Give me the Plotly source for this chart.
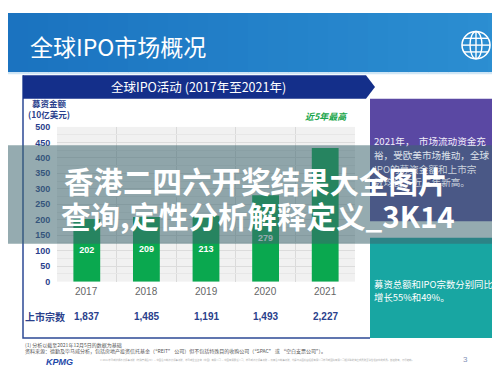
import plotly.graph_objects as go

years = ["2017", "2018", "2019", "2020", "2021"]
funds_raised = [202, 209, 213, 279, 432]          # 募资金额 (10亿美元)
bar_labels = ["202", "209", "213", "279", ""]     # 2021 label hidden behind overlay text
listings = ["1,837", "1,485", "1,191", "1,493", "2,227"]  # 上市宗数
y_ticks = [0, 50, 100, 150, 200, 250, 300, 350, 400, 450, 500]

W, H = 500, 375
def px(x): return x / W
def py(y): return 1 - y / H

NAVY = "#142f8a"
TXT_NAVY = "#2a3f8c"
GREEN = "#0aa84f"
CJK = "Noto Sans CJK SC, Noto Sans, sans-serif"
NUM = "Liberation Sans, Arial, sans-serif"

idx = list(range(len(years)))

fig = go.Figure()
fig.add_trace(go.Bar(
    x=idx, y=funds_raised, width=0.45,
    marker=dict(color=GREEN, line=dict(width=0)),
    text=bar_labels,
    textposition="inside", insidetextanchor="middle",
    textfont=dict(color="white", size=9, family=NUM, weight="bold"),
    hoverinfo="skip",
))

shapes = []
# header gradient
c0 = (27, 115, 192); c1 = (44, 143, 210)
n = 25
for i in range(n):
    t = i / (n - 1)
    c = tuple(int(c0[k] + (c1[k] - c0[k]) * t) for k in range(3))
    shapes.append(dict(type="rect", xref="paper", yref="paper",
                       x0=px(W * i / n), x1=px(W * (i + 1) / n + 1), y0=py(61), y1=py(0),
                       fillcolor="rgb(%d,%d,%d)" % c, line=dict(width=0), layer="below"))
shapes.append(dict(type="rect", xref="paper", yref="paper", x0=0, x1=1, y0=py(63), y1=py(61),
                   fillcolor="#cfe6f6", line=dict(width=0), layer="below"))
# globe icon
gx, gy, r = 468, 33, 14
shapes.append(dict(type="circle", xref="paper", yref="paper", x0=px(gx - r), x1=px(gx + r),
                   y0=py(gy + r), y1=py(gy - r), line=dict(color="white", width=1.6)))
shapes.append(dict(type="circle", xref="paper", yref="paper", x0=px(gx - 6), x1=px(gx + 6),
                   y0=py(gy + r), y1=py(gy - r), line=dict(color="white", width=1.4)))
shapes.append(dict(type="line", xref="paper", yref="paper", x0=px(gx), x1=px(gx),
                   y0=py(gy + r), y1=py(gy - r), line=dict(color="white", width=1.4)))
for dy, hw in [(0, 14), (-7, 12), (7, 12)]:
    shapes.append(dict(type="line", xref="paper", yref="paper", x0=px(gx - hw), x1=px(gx + hw),
                       y0=py(gy + dy), y1=py(gy + dy), line=dict(color="white", width=1.4)))
# chart box border
shapes.append(dict(type="path", xref="paper", yref="paper",
                   path="M %f %f L %f %f L %f %f" % (px(15), py(64), px(15), py(334), px(362), py(334)),
                   line=dict(color="#2d4a95", width=1.5), layer="below"))
# navy header arrow
shapes.append(dict(type="path", xref="paper", yref="paper",
                   path="M %f %f L %f %f L %f %f L %f %f L %f %f Z" % (
                       px(15), py(64), px(358), py(64), px(367), py(76), px(358), py(88), px(15), py(88)),
                   fillcolor=NAVY, line=dict(width=0), layer="below"))
# right panels
shapes.append(dict(type="rect", xref="paper", yref="paper", x0=px(362), x1=1, y0=py(214), y1=py(88),
                   fillcolor="#5a48a3", line=dict(width=0), layer="below"))
shapes.append(dict(type="rect", xref="paper", yref="paper", x0=px(362), x1=1, y0=py(334), y1=py(231),
                   fillcolor="#18a6a2", line=dict(width=0), layer="below"))
# translucent overlay band
shapes.append(dict(type="rect", xref="paper", yref="paper", x0=0, x1=1, y0=py(237), y1=py(136),
                   fillcolor="rgba(62,102,112,0.55)", line=dict(width=0), layer="above"))

ann = []
def A(text, x, y, size, color, xanchor="left", family=CJK, weight="normal", style="normal"):
    ann.append(dict(text=text, x=px(x), y=py(y), xref="paper", yref="paper", showarrow=False,
                    xanchor=xanchor, yanchor="middle",
                    font=dict(size=size, color=color, family=family, weight=weight, style=style)))

A("全球IPO市场概况", 20, 34, 23, "white")
A("全球IPO活动 (2017年至2021年)", 190, 76, 12.5, "white", xanchor="center")
A("募资金额<br>(10亿美元)", 41, 98, 8.5, TXT_NAVY, xanchor="center", weight="bold")
A("近5年最高", 318, 106, 9, "#1aa64b", xanchor="center", weight="bold", style="italic")
A("上市宗数", 37, 312, 10, TXT_NAVY, xanchor="center", weight="bold")
for i, yr, v in zip(idx, years, listings):
    ann.append(dict(text=yr, x=i, xref="x", y=py(286), yref="paper", showarrow=False,
                    xanchor="center", yanchor="middle",
                    font=dict(size=10, color="#666666", family=NUM)))
    ann.append(dict(text=v, x=i, xref="x", y=py(312), yref="paper", showarrow=False,
                    xanchor="center", yanchor="middle",
                    font=dict(size=10, color=TXT_NAVY, family=NUM, weight="bold")))
# right panel texts
A("2021年，  市场流动资金充", 364, 132, 9.6, "#f0eef8")
A("裕，受欧美市场推动，全球", 364, 146, 9.6, "#dde2ea")
A("IPO的募资金额和上市宗", 364, 160, 9.6, "#c9d2dc")
A("数均创下近五年新高。", 364, 174, 9.6, "#c9d2dc")
A("募资总额和IPO宗数分别同比", 364, 278, 9.4, "white")
A("增长55%和49%。", 364, 292, 9.4, "white")
# footnotes
A("(1) 分析以截至2021年12月5日的数据为基础", 15, 341, 5, "#555555")
A("资料来源：德勤及毕马威分析，包括房地产投资信托基金（“REIT” 公司）但不包括特殊目的收购公司（“SPAC” 或 “空白支票公司”）。",
  15, 347, 5, "#555555")
A("KPMG", 51, 359, 9, "#1e49a8", xanchor="center", family=NUM, weight="bold", style="italic")
A("© 2021 毕马威华振会计师事务所（特殊普通合伙）— 中国合伙制会计师事务所，毕马威企业咨询（中国）有限公司 — 中国有限责任公司，毕马威会计师事务所 — 香港合伙制事务所，均是与英国私营担保有限公司毕马威国际有限公司相关联的独立成员所全球性组织中的成员。版权所有，不得转载。",
  90, 357, 2.4, "#aaaaaa")
A("3", 457, 356, 8, "#7f8fb5", xanchor="center", family=NUM)
# overlay headline
A("香港二四六开奖结果大全图片", 248, 172, 29.5, "white", xanchor="center", weight="bold")
A("查询,定性分析解释定义_3K14", 250, 208, 29.5, "white", xanchor="center", weight="bold")

fig.update_layout(
    width=W, height=H, margin=dict(l=0, r=0, t=0, b=0),
    paper_bgcolor="white", plot_bgcolor="#f1f1f1",
    showlegend=False, shapes=shapes, annotations=ann, bargap=0.55,
    xaxis=dict(domain=[px(49), px(347)], range=[-0.5, len(years) - 0.5],
               tickvals=idx, showticklabels=False, showgrid=False, zeroline=False,
               minor=dict(tickvals=[i + 0.5 for i in idx[:-1]], showgrid=True,
                          gridcolor="#dadada", gridwidth=1, ticks="")),
    yaxis=dict(domain=[py(276), py(117)], range=[0, 500], tickvals=y_ticks,
               showgrid=True, gridcolor="#dcdcdc", zeroline=False,
               ticks="outside", ticklen=4, tickcolor="rgba(0,0,0,0)",
               tickfont=dict(size=9, color=TXT_NAVY, family=NUM, weight="bold"),
               minor=dict(dtick=25, showgrid=True, gridcolor="#e7e7e7", ticks="")),
)

fig.write_html("out.html")
